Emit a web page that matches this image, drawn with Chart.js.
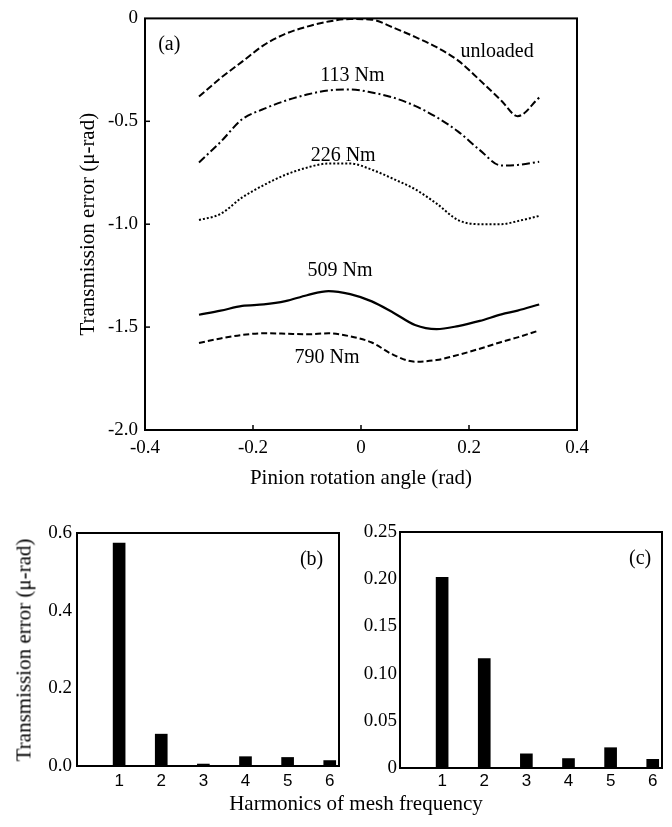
<!DOCTYPE html>
<html>
<head>
<meta charset="utf-8">
<script src="https://cdn.jsdelivr.net/npm/chart.js@4.4.0/dist/chart.umd.min.js"></script>
<style>
  body { margin: 0; background: #fff; width: 672px; height: 827px; position: relative; overflow: hidden; }
  .box { position: absolute; }
  .lbl { position: absolute; font-family: "Liberation Serif", "Times New Roman", serif; font-size: 21px; color: #000; white-space: nowrap; }
</style>
</head>
<body>
<div class="box" style="left:0;top:0;width:672px;height:500px"><canvas id="chartA"></canvas></div>
<div class="box" style="left:0;top:480px;width:350px;height:347px"><canvas id="chartB"></canvas></div>
<div class="box" style="left:345px;top:480px;width:327px;height:347px"><canvas id="chartC"></canvas></div>
<div class="lbl" style="left:24px;top:650px;transform:translate(-50%,-50%) rotate(-90deg)">Transmission error (μ-rad)</div>
<div class="lbl" style="left:356px;top:803px;transform:translate(-50%,-50%)">Harmonics of mesh frequency</div>
<script>
const SERIF = '"Liberation Serif", "Times New Roman", serif';
const SANS = '"Liberation Sans", Arial, sans-serif';

// (a) transmission error vs pinion angle
const angles = [-0.30, -0.26, -0.22, -0.18, -0.14, -0.10, -0.06, -0.02, 0.02, 0.06, 0.10, 0.14, 0.18, 0.22, 0.26, 0.29, 0.33];
const teUnloaded = [-0.38, -0.29, -0.21, -0.13, -0.075, -0.04, -0.015, -0.003, -0.006, -0.045, -0.09, -0.14, -0.205, -0.30, -0.40, -0.475, -0.385];
const te113 = [-0.70, -0.60, -0.49, -0.44, -0.40, -0.37, -0.35, -0.345, -0.36, -0.385, -0.425, -0.48, -0.55, -0.64, -0.715, -0.712, -0.697];
const te226 = [-0.98, -0.95, -0.87, -0.81, -0.76, -0.725, -0.705, -0.705, -0.735, -0.78, -0.83, -0.90, -0.98, -1.0, -1.0, -0.985, -0.96];
const te509 = [-1.44, -1.42, -1.397, -1.39, -1.374, -1.345, -1.325, -1.34, -1.375, -1.43, -1.49, -1.51, -1.495, -1.47, -1.438, -1.42, -1.39];
const te790 = [-1.577, -1.555, -1.538, -1.53, -1.532, -1.535, -1.53, -1.545, -1.575, -1.635, -1.668, -1.66, -1.635, -1.605, -1.572, -1.55, -1.516];

// (b), (c) harmonic amplitudes
const harmonics = [1, 2, 3, 4, 5, 6];
const ampB = [0.574, 0.082, 0.005, 0.024, 0.022, 0.014];
const ampC = [0.202, 0.116, 0.015, 0.010, 0.0215, 0.0092];

const ticksA_x = [-0.2, 0, 0.2];
const ticksA_y = [-0.5, -1.0, -1.5];

// box, inward tick marks and text notes
const framePlugin = {
  id: 'frame',
  afterDraw(chart, args, opts) {
    const { ctx, chartArea: a, scales } = chart;
    ctx.save();
    ctx.strokeStyle = '#000';
    ctx.lineWidth = 2;
    ctx.strokeRect(a.left, a.top, a.right - a.left, a.bottom - a.top);
    ctx.lineWidth = 1.5;
    (opts.xTicks || []).forEach(v => {
      const px = scales.x.getPixelForValue(v);
      ctx.beginPath(); ctx.moveTo(px, a.bottom); ctx.lineTo(px, a.bottom - 5); ctx.stroke();
    });
    (opts.yTicks || []).forEach(v => {
      const py = scales.y.getPixelForValue(v);
      ctx.beginPath(); ctx.moveTo(a.left, py); ctx.lineTo(a.left + 5, py); ctx.stroke();
    });
    ctx.fillStyle = '#000';
    ctx.textAlign = 'center';
    ctx.textBaseline = 'middle';
    (opts.notes || []).forEach(n => {
      ctx.font = (n.size || 20) + 'px ' + (n.family || SERIF);
      ctx.fillText(n.text, scales.x.getPixelForValue(n.x), scales.y.getPixelForValue(n.y));
    });
    ctx.restore();
  }
};

function curve(label, ys, dash, width) {
  return {
    label: label,
    data: angles.map((a, i) => ({ x: a, y: ys[i] })),
    showLine: true,
    borderColor: '#000',
    borderWidth: width,
    borderDash: dash,
    pointRadius: 0,
    cubicInterpolationMode: 'monotone',
    fill: false
  };
}

const fmt1 = v => Math.abs(v) < 1e-9 ? '0' : v.toFixed(1);

new Chart(document.getElementById('chartA'), {
  type: 'scatter',
  data: {
    datasets: [
      curve('unloaded', teUnloaded, [7, 3], 2),
      curve('113 Nm', te113, [8, 3, 2, 3], 2),
      curve('226 Nm', te226, [2, 2], 2),
      curve('509 Nm', te509, [], 2.2),
      curve('790 Nm', te790, [6, 3], 2)
    ]
  },
  options: {
    responsive: true,
    maintainAspectRatio: false,
    animation: false,
    layout: { padding: { left: 0, top: 17, right: 95, bottom: 0 } },
    plugins: {
      legend: { display: false },
      tooltip: { enabled: false },
      frame: {
        xTicks: ticksA_x,
        yTicks: ticksA_y,
        notes: [
          { text: '(a)', x: -0.355, y: -0.13 },
          { text: 'unloaded', x: 0.252, y: -0.16 },
          { text: '113 Nm', x: -0.016, y: -0.279 },
          { text: '226 Nm', x: -0.033, y: -0.666 },
          { text: '509 Nm', x: -0.039, y: -1.228 },
          { text: '790 Nm', x: -0.063, y: -1.649 }
        ]
      }
    },
    scales: {
      x: {
        type: 'linear', min: -0.4, max: 0.4,
        grid: { display: false, drawTicks: false },
        border: { display: false },
        ticks: { stepSize: 0.2, callback: fmt1, color: '#000', padding: 7, maxRotation: 0, font: { family: SERIF, size: 19 } },
        title: { display: true, text: 'Pinion rotation angle (rad)', color: '#000', font: { family: SERIF, size: 21 }, padding: { top: 0, bottom: 9 } },
        afterFit: s => { s.height = 70; }
      },
      y: {
        min: -2, max: 0,
        grid: { display: false, drawTicks: false },
        border: { display: false },
        ticks: { stepSize: 0.5, callback: fmt1, color: '#000', padding: 7, font: { family: SERIF, size: 19 } },
        title: { display: true, text: 'Transmission error (μ-rad)', color: '#000', font: { family: SERIF, size: 21 }, padding: { top: 76, bottom: 0 } },
        afterFit: s => { s.width = 145; }
      }
    }
  },
  plugins: [framePlugin]
});

function barChart(id, amps, yMax, yStep, yFmt, yWidth, padTop, padRight, xHeight, xPad, yPad, note) {
  new Chart(document.getElementById(id), {
    type: 'bar',
    data: {
      datasets: [{
        data: harmonics.map((h, i) => ({ x: h, y: amps[i] })),
        backgroundColor: '#000',
        borderWidth: 0,
        barThickness: 12
      }]
    },
    options: {
      responsive: true,
      maintainAspectRatio: false,
      animation: false,
      layout: { padding: { left: 0, top: padTop, right: padRight, bottom: 0 } },
      plugins: {
        legend: { display: false },
        tooltip: { enabled: false },
        frame: { yTicks: [], notes: [note] }
      },
      scales: {
        x: {
          type: 'linear', min: 0, max: 6.22, offset: false,
          grid: { display: false, drawTicks: false },
          border: { display: false },
          ticks: {
            color: '#000', padding: xPad, maxRotation: 0, autoSkip: false,
            font: { family: SANS, size: 17 },
            callback: v => String(v)
          },
          afterBuildTicks: s => { s.ticks = harmonics.map(h => ({ value: h })); },
          afterFit: s => { s.height = xHeight; }
        },
        y: {
          min: 0, max: yMax,
          grid: { display: false, drawTicks: false },
          border: { display: false },
          ticks: { stepSize: yStep, callback: yFmt, color: '#000', padding: yPad, font: { family: SERIF, size: 19 } },
          afterFit: s => { s.width = yWidth; }
        }
      }
    },
    plugins: [framePlugin]
  });
}

barChart('chartB', ampB, 0.6, 0.2, v => v.toFixed(1), 77, 53, 11, 61, 5, 5,
  { text: '(b)', x: 5.57, y: 0.532 });
barChart('chartC', ampC, 0.25, 0.05, v => Math.abs(v) < 1e-9 ? '0' : v.toFixed(2), 55, 52, 10, 59, 3, 3,
  { text: '(c)', x: 5.7, y: 0.222 });
</script>
</body>
</html>
